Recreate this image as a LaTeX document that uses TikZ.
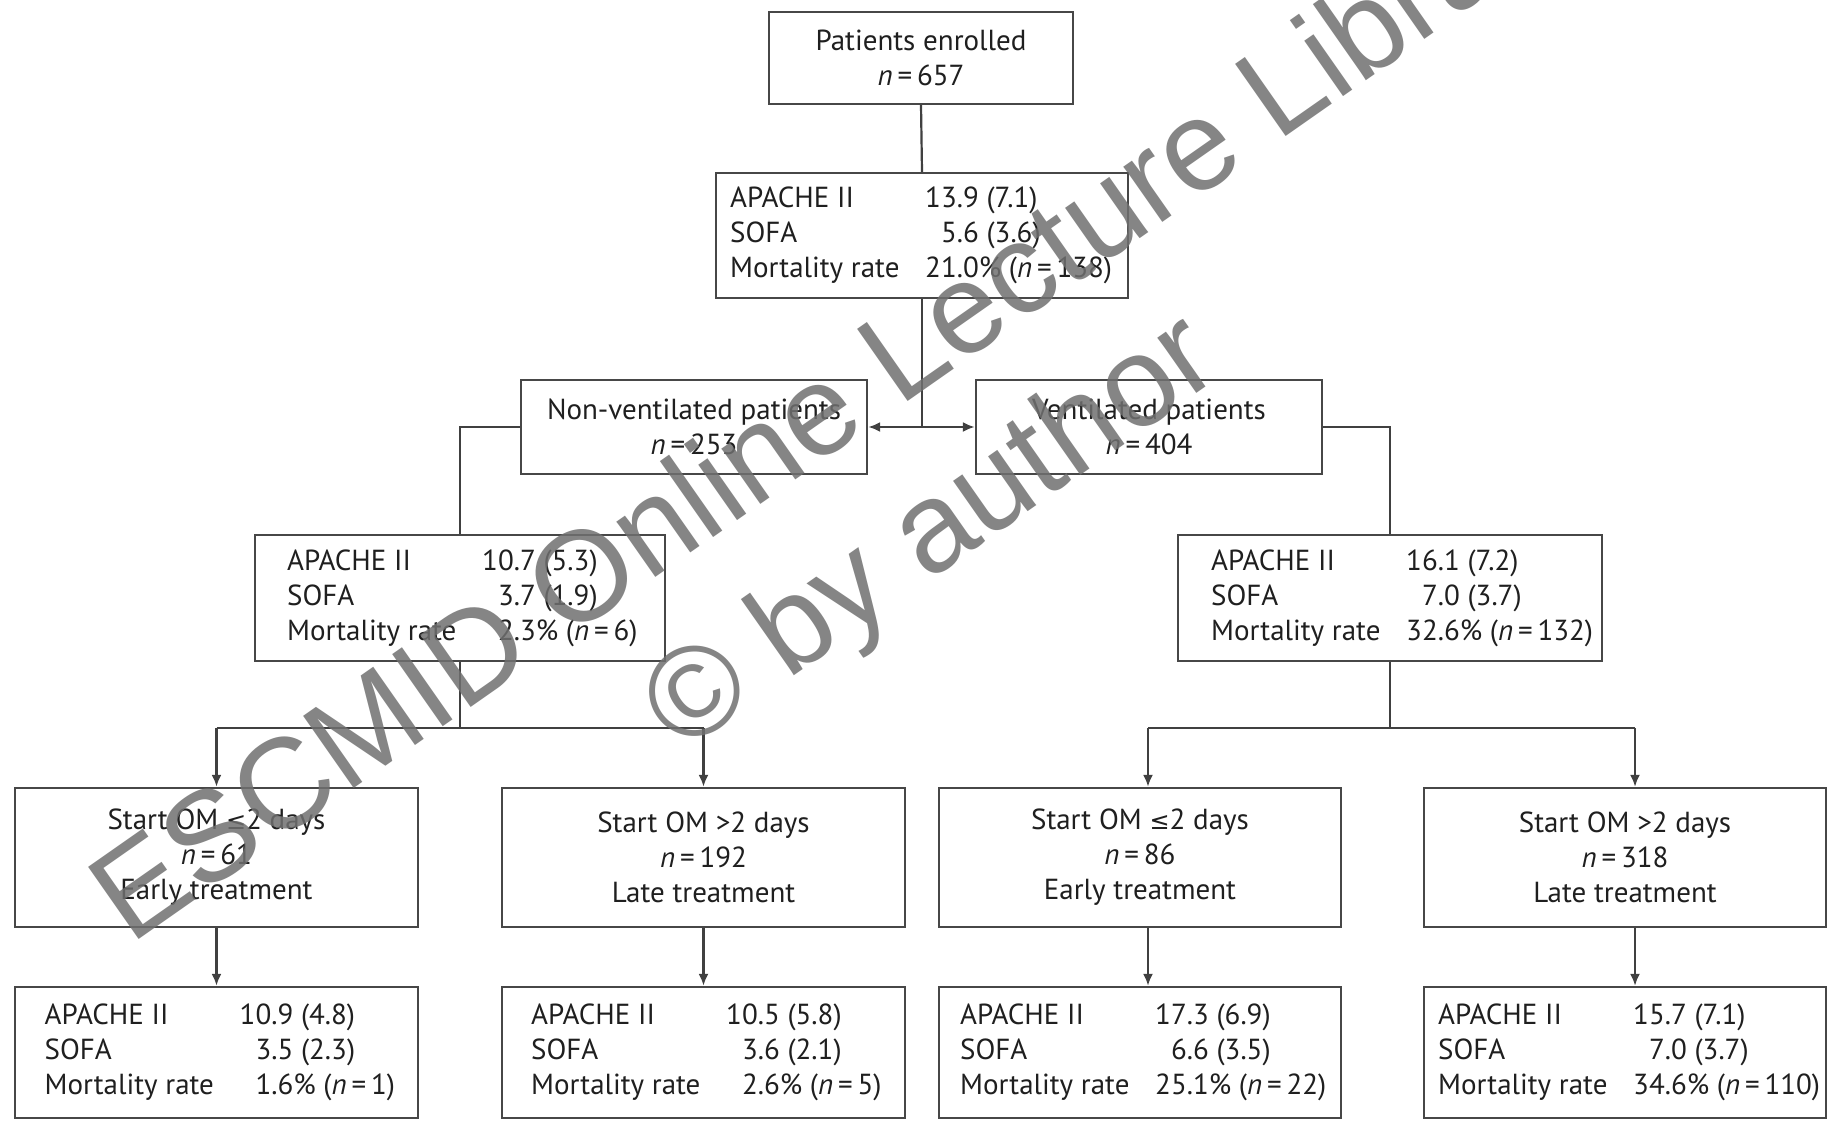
\documentclass[tikz,border=0pt]{standalone}
\usepackage{fontspec}
\setmainfont{PT Sans}
\newfontfamily\symf{DejaVu Sans}
\newfontfamily\wmfont{Liberation Sans}
\usetikzlibrary{arrows.meta}
\newcommand\nn{\textit{n}\,=\,}
\newcommand\lesym{{\symf\fontsize{24}{35}\selectfont ≤}}
\newcommand\statrows[6]{\begin{tabular}{@{}p{195pt}@{}r@{}l@{}}APACHE II & #1 & #2\\ SOFA & #3 & #4\\ Mortality rate & #5 & #6\end{tabular}}
\begin{document}
\begin{tikzpicture}[x=1pt,y=-1pt,
  box/.style={draw=black!72, line width=2.4pt, inner sep=0pt, font=\fontsize{29}{35}\selectfont, align=center, text=black!88},
  conn/.style={draw=black!75, line width=2.2pt},
  arr/.style={conn, -{Latex[length=12pt,width=10pt]}},
  stat/.style={anchor=west, inner sep=0pt, font=\fontsize{29}{35}\selectfont, text=black!88},
  wm/.style={font=\wmfont\fontsize{128}{128}\selectfont, text=black!56, rotate=35, anchor=base west, inner sep=0pt, opacity=0.85}]
\useasboundingbox (0,0) rectangle (1835,1122);
\fill[white] (0,0) rectangle (1835,1122);
% top
\node[box, minimum width=304pt, minimum height=92pt] (b1) at (921,58) {Patients enrolled\\\nn657};
\node[box, minimum width=412pt, minimum height=125pt] (b2) at (922,235.5) {};
\node[stat] (t2) at (730,235.5) {\statrows{13}{.9 (7.1)}{5}{.6 (3.6)}{21}{.0\% (\nn138)}};
% ventilation split
\node[box, minimum width=346pt, minimum height=94pt] (b3) at (694,427) {Non-ventilated patients\\\nn253};
\node[box, minimum width=346pt, minimum height=94pt] (b4) at (1149,427) {Ventilated patients\\\nn404};
\node[box, minimum width=410pt, minimum height=126pt] (b5) at (460,598) {};
\node[stat] (t5) at (287,598) {\statrows{10}{.7 (5.3)}{3}{.7 (1.9)}{2}{.3\% (\nn6)}};
\node[box, minimum width=424pt, minimum height=126pt] (b6) at (1390,598) {};
\node[stat] (t6) at (1211,598) {\statrows{16}{.1 (7.2)}{7}{.0 (3.7)}{32}{.6\% (\nn132)}};
% treatment row
\node[box, minimum width=403pt, minimum height=139pt] (bA) at (216.5,857.5) {Start OM \lesym2 days\\\nn61\\Early treatment};
\node[box, minimum width=403pt, minimum height=139pt] (bB) at (703.5,857.5) {Start OM >2 days\\\nn192\\Late treatment};
\node[box, minimum width=402pt, minimum height=139pt] (bC) at (1140,857.5) {Start OM \lesym2 days\\\nn86\\Early treatment};
\node[box, minimum width=402pt, minimum height=139pt] (bD) at (1625,857.5) {Start OM >2 days\\\nn318\\Late treatment};
% stats row
\node[box, minimum width=403pt, minimum height=131pt] (sA) at (216.5,1052.5) {};
\node[stat] (tA) at (44.5,1052.5) {\statrows{10}{.9 (4.8)}{3}{.5 (2.3)}{1}{.6\% (\nn1)}};
\node[box, minimum width=403pt, minimum height=131pt] (sB) at (703.5,1052.5) {};
\node[stat] (tB) at (531,1052.5) {\statrows{10}{.5 (5.8)}{3}{.6 (2.1)}{2}{.6\% (\nn5)}};
\node[box, minimum width=402pt, minimum height=131pt] (sC) at (1140,1052.5) {};
\node[stat] (tC) at (960,1052.5) {\statrows{17}{.3 (6.9)}{6}{.6 (3.5)}{25}{.1\% (\nn22)}};
\node[box, minimum width=402pt, minimum height=131pt] (sD) at (1625,1052.5) {};
\node[stat] (tD) at (1438,1052.5) {\statrows{15}{.7 (7.1)}{7}{.0 (3.7)}{34}{.6\% (\nn110)}};
% connectors
\coordinate (j1) at (b2.south |- b3.east);
\coordinate (j2) at (b5.south |- 0,728);
\coordinate (j3) at (b6.south |- 0,728);
\coordinate (kA) at (bA.north |- 0,728);
\coordinate (kB) at (bB.north |- 0,728);
\coordinate (kC) at (1148,728);
\coordinate (kD) at (1635,728);
\draw[conn] (b1.south) -- (b2.north);
\draw[conn] (b2.south) -- (j1);
\draw[arr] (j1) -- (b3.east);
\draw[arr] (j1) -- (b4.west);
\draw[conn] (b3.west) -| (b5.north);
\draw[conn] (b4.east) -| (b6.north);
\draw[conn] (b5.south) -- (j2);
\draw[conn] (kA) -- (kB);
\draw[arr] (kA) -- (bA.north);
\draw[arr] (kB) -- (bB.north);
\draw[conn] (b6.south) -- (j3);
\draw[conn] (kC) -- (kD);
\draw[arr] (kC) -- (kC |- bC.north);
\draw[arr] (kD) -- (kD |- bD.north);
\draw[arr] (bA.south) -- (sA.north);
\draw[arr] (bB.south) -- (sB.north);
\draw[arr] (kC |- bC.south) -- (kC |- sC.north);
\draw[arr] (kD |- bD.south) -- (kD |- sD.north);
% watermark
\node[wm] (wm1) at (130,946) {ESCMID Online Lecture Library};
\node[wm] (wm2) at (681,755) {© by author};
\end{tikzpicture}
\end{document}
